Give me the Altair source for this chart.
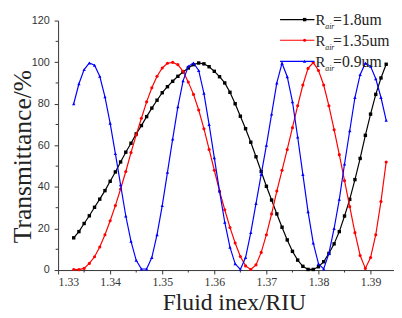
import altair as alt
import pandas as pd

# Fluid refractive index (RIU)
x_vals = [1.333, 1.334, 1.335, 1.336, 1.337, 1.338, 1.339, 1.340, 1.341, 1.342,
          1.343, 1.344, 1.345, 1.346, 1.347, 1.348, 1.349, 1.350, 1.351, 1.352,
          1.353, 1.354, 1.355, 1.356, 1.357, 1.358, 1.359, 1.360, 1.361, 1.362,
          1.363, 1.364, 1.365, 1.366, 1.367, 1.368, 1.369, 1.370, 1.371, 1.372,
          1.373, 1.374, 1.375, 1.376, 1.377, 1.378, 1.379, 1.380, 1.381, 1.382,
          1.383, 1.384, 1.385, 1.386, 1.387, 1.388, 1.389, 1.390, 1.391, 1.392,
          1.393]

# Transmittance (%) for R_air = 1.8um
t_18 = [15.5, 18.5, 22.4, 26.1, 30.2, 34.1, 38.2, 42.7, 47.2, 52.0,
        56.7, 61.0, 65.5, 69.5, 73.8, 77.9, 81.7, 85.3, 88.2, 90.8,
        93.2, 95.3, 97.2, 98.8, 99.6, 99.2, 97.8, 95.6, 93.0, 90.0,
        85.5, 80.0, 74.0, 68.0, 61.5, 54.5, 47.4, 40.3, 33.7, 27.0,
        20.6, 14.5, 9.0, 4.8, 1.8, 0.3, 0.3, 1.6, 4.0, 8.0,
        12.6, 18.5, 26.0, 34.0, 43.5, 53.7, 64.8, 75.0, 84.5, 92.4,
        99.0]

# Transmittance (%) for R_air = 1.35um
t_135 = [0.3, 0.2, 0.8, 3.2, 6.4, 11.1, 17.0, 23.7, 31.0, 39.0,
         47.4, 56.5, 65.0, 73.0, 80.9, 87.7, 93.2, 97.2, 99.5, 99.9,
         98.8, 95.6, 90.4, 84.5, 77.0, 68.0, 58.0, 48.0, 38.0, 29.0,
         20.5, 13.0, 6.5, 2.0, 0.3, 2.5, 8.5, 17.0, 27.0, 38.0,
         48.0, 58.0, 68.5, 79.0, 89.0, 97.0, 99.8, 96.0, 89.0, 79.0,
         67.5, 55.5, 43.0, 30.5, 18.0, 7.0, 0.8, 6.0, 17.0, 33.0,
         52.0]

# Transmittance (%) for R_air = 0.9um
t_09 = [80.0, 89.6, 96.4, 99.6, 98.5, 93.2, 83.3, 70.6, 56.0, 41.0,
        26.0, 13.8, 4.7, 0.5, 0.5, 6.0, 17.0, 31.0, 47.0, 63.0,
        78.5, 91.0, 98.0, 99.6, 96.0, 85.0, 70.0, 54.0, 38.0, 23.0,
        11.0, 3.0, 0.3, 6.0, 18.0, 32.0, 46.0, 60.0, 75.0, 90.0,
        99.5, 93.0, 81.0, 64.0, 46.0, 28.0, 13.0, 3.0, 0.5, 8.0,
        20.0, 34.0, 51.0, 67.0, 83.0, 94.0, 99.5, 98.0, 92.0, 83.0,
        72.0]

x_ticks = [1.33, 1.34, 1.35, 1.36, 1.37, 1.38, 1.39]
x_minor = [1.335, 1.345, 1.355, 1.365, 1.375, 1.385]
y_ticks = [0, 20, 40, 60, 80, 100, 120]
y_minor = [10, 30, 50, 70, 90, 110]

legend_values = ["=1.8um", "=1.35um", "=0.9um"]
colors = ["#000000", "#ff0000", "#0000ff"]
shapes = ["square", "circle", "triangle-up"]
sizes = [12, 10, 12]
series = [t_18, t_135, t_09]

W, H = 342, 254
xscale = alt.Scale(domain=[1.33, 1.3945], nice=False, zero=False)
yscale = alt.Scale(domain=[0, 120], nice=False)

xaxis = alt.Axis(values=x_ticks, format=".2f", grid=False, title="Fluid inex/RIU",
                 labelFont="Liberation Serif", labelFontSize=12, labelColor="#333333",
                 labelPadding=3, tickSize=4, tickColor="#333333", domainColor="#333333",
                 titleFont="Liberation Serif", titleFontSize=24, titleFontWeight="normal",
                 titleColor="#222222", titleX=179, titleY=40, titleBaseline="alphabetic",
                 titleAlign="center")
yaxis = alt.Axis(values=y_ticks, grid=False, title="Transmittance/%",
                 labelFont="Liberation Sans", labelFontSize=11, labelColor="#333333",
                 labelPadding=5, tickSize=4, tickColor="#333333", domainColor="#333333",
                 titleFont="Liberation Serif", titleFontSize=26, titleFontWeight="normal",
                 titleColor="#222222", titleX=-36, titleY=138, titleBaseline="middle",
                 titleAlign="center")

layers = []
for vals, color, shape, size in zip(series, colors, shapes, sizes):
    d = pd.DataFrame({"x": x_vals, "T": vals})
    base = alt.Chart(d).encode(
        x=alt.X("x:Q", scale=xscale, axis=xaxis),
        y=alt.Y("T:Q", scale=yscale, axis=yaxis),
    )
    layers.append(base.mark_line(color=color, strokeWidth=1.2))
    layers.append(base.mark_point(shape=shape, filled=True, size=size, color=color, opacity=1))

# minor ticks
layers.append(
    alt.Chart(pd.DataFrame({"x": x_minor})).mark_rule(color="#333333", strokeWidth=1).encode(
        x=alt.X("x:Q", scale=xscale, axis=xaxis), y=alt.value(H), y2=alt.value(H + 2.5))
)
layers.append(
    alt.Chart(pd.DataFrame({"T": y_minor})).mark_rule(color="#333333", strokeWidth=1).encode(
        y=alt.Y("T:Q", scale=yscale, axis=yaxis), x=alt.value(-2.5), x2=alt.value(0))
)

# legend (drawn manually to get the subscript)
one = pd.DataFrame({"k": [0]})
line_rows = [-1, 20, 41.5]
text_rows = [4.5, 25.5, 47]
for lab, color, shape, size, yl, yt in zip(legend_values, colors, shapes, sizes, line_rows, text_rows):
    layers.append(alt.Chart(one).mark_rule(color=color, strokeWidth=1.2).encode(
        x=alt.value(226), x2=alt.value(261), y=alt.value(yl)))
    layers.append(alt.Chart(one).mark_point(shape=shape, filled=True, size=size, color=color, opacity=1).encode(
        x=alt.value(251), y=alt.value(yl)))
    layers.append(alt.Chart(one).mark_text(text="R", font="Liberation Serif", fontSize=15, align="left",
                                           baseline="alphabetic", color="#222222").encode(
        x=alt.value(262), y=alt.value(yt)))
    layers.append(alt.Chart(one).mark_text(text="air", font="Liberation Serif", fontSize=8, fontStyle="italic",
                                           align="left", baseline="alphabetic", color="#222222").encode(
        x=alt.value(272), y=alt.value(yt + 4)))
    layers.append(alt.Chart(one).mark_text(text=lab, font="Liberation Serif", fontSize=16, align="left",
                                           baseline="alphabetic", color="#222222").encode(
        x=alt.value(280), y=alt.value(yt)))

chart = alt.layer(*layers).properties(
    width=W, height=H,
    padding={"left": 51, "top": 10, "right": 0, "bottom": 46},
    autosize=alt.AutoSizeParams(type="none"),
).configure_view(stroke=None)

chart.save("out.html", embed_options={"renderer": "svg", "actions": False})
